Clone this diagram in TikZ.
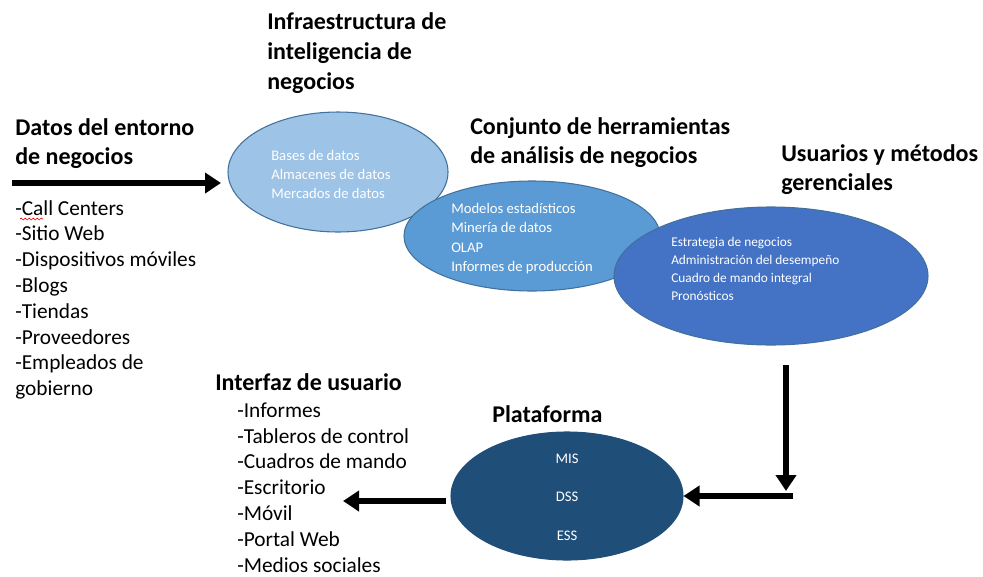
\documentclass[tikz,border=0pt]{standalone}
\usepackage{fontspec}
\setmainfont{Carlito}
\usetikzlibrary{shapes.geometric,arrows.meta,decorations.pathmorphing}
\definecolor{eone}{HTML}{9DC3E6}
\definecolor{etwo}{HTML}{5B9BD5}
\definecolor{ethree}{HTML}{4472C4}
\definecolor{efour}{HTML}{1F4E79}
\definecolor{eline}{HTML}{41719C}
\begin{document}
\begin{tikzpicture}[x=0.75pt,y=-0.75pt,
  head/.style={font=\fontsize{18}{22}\selectfont\bfseries, inner sep=0pt, anchor=base west},
  body/.style={font=\fontsize{16}{19}\selectfont, inner sep=0pt, anchor=base west},
  etext/.style={font=\fontsize{11}{14}\selectfont, text=white, inner sep=0pt, anchor=base west},
  etextsm/.style={font=\fontsize{10}{13}\selectfont, text=white, inner sep=0pt, anchor=base west},
  blob/.style={ellipse, draw=eline, line width=0.8pt, inner sep=0pt},
  bigarrow/.style={line width=5pt, -{Triangle[length=12pt,width=15pt]}}]
\useasboundingbox (0,0) rectangle (983,576);

% ellipses
\node[blob, fill=eone, minimum width=165pt, minimum height=90pt] (e1) at (338,172) {};
\node[blob, fill=etwo, minimum width=192pt, minimum height=82.5pt] (e2) at (532,236) {};
\node[blob, fill=ethree, minimum width=235.5pt, minimum height=103.5pt] (e3) at (771,276) {};
\node[blob, fill=efour, draw=efour, minimum width=174pt, minimum height=96pt] (e4) at (567,496) {};

% headings
\node[head] (inf1) at (267,29) {Infraestructura de};
\node[head] (inf2) at (267,59) {inteligencia de};
\node[head] (inf3) at (267,89) {negocios};
\node[head] (dat1) at (15,135) {Datos del entorno};
\node[head] (dat2) at (15,164) {de negocios};
\node[head] (con1) at (470,134) {Conjunto de herramientas};
\node[head] (con2) at (470,163) {de análisis de negocios};
\node[head] (usu1) at (781,161) {Usuarios y métodos};
\node[head] (usu2) at (781,190) {gerenciales};
\node[head] (int) at (215,390) {Interfaz de usuario};
\node[head] (pla) at (492,422) {Plataforma};

% source list
\foreach \t [count=\i] in {-Call Centers,-Sitio Web,-Dispositivos móviles,-Blogs,-Tiendas,-Proveedores,-Empleados de,gobierno}
  \node[body] (src\i) at (15,{189.2+25.8*\i}) {\t};
\draw[red, line width=0.5pt, decorate, decoration={snake, segment length=3pt, amplitude=0.7pt}] (20,219) -- (43,219);

% interface list
\foreach \t [count=\i] in {-Informes,-Tableros de control,-Cuadros de mando,-Escritorio,-Móvil,-Portal Web,-Medios sociales}
  \node[body] (ui\i) at (237,{391.5+25.8*\i}) {\t};

% ellipse texts
\foreach \t [count=\i] in {Bases de datos,Almacenes de datos,Mercados de datos}
  \node[etext] (bi\i) at (271,{141.5+19*\i}) {\t};
\foreach \t [count=\i] in {Modelos estadísticos,Minería de datos,OLAP,Informes de producción}
  \node[etext] (an\i) at (451,{194.2+19.3*\i}) {\t};
\foreach \t [count=\i] in {Estrategia de negocios,Administración del desempeño,Cuadro de mando integral,Pronósticos}
  \node[etextsm] (us\i) at (671,{228+18*\i}) {\t};
\foreach \t/\y [count=\i] in {MIS/463,DSS/501,ESS/540}
  \node[etext, anchor=base] (pl\i) at (567,\y) {\t};

% arrows
\coordinate (a1s) at (12,183);
\coordinate (a1e) at (221,183);
\coordinate (a2s) at (786,365);
\coordinate (a2e) at (786,491);
\coordinate (a3s) at (793,496);
\coordinate (a4s) at (446,501);
\coordinate (a4e) at (343,501);
\draw[bigarrow] (a1s) -- (a1e);
\draw[bigarrow] (a2s) -- (a2e);
\draw[bigarrow] (a3s) -- (e4.east);
\draw[bigarrow] (a4s) -- (a4e);
\end{tikzpicture}
\end{document}
